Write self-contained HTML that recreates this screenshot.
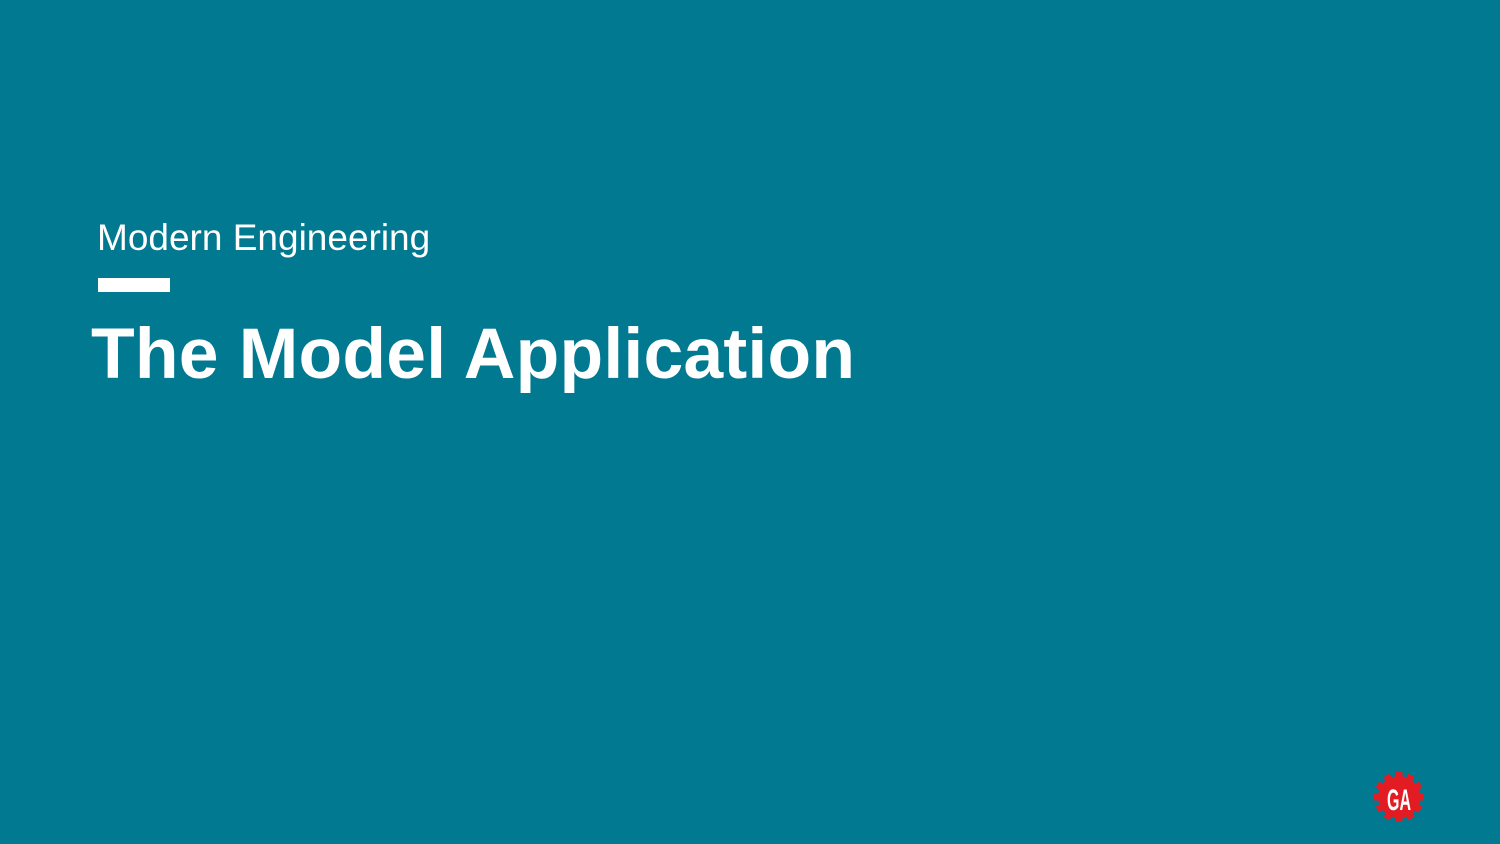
<!DOCTYPE html>
<html><head><meta charset="utf-8"><style>
html,body{margin:0;padding:0;}
body{width:1500px;height:844px;background:#017990;position:relative;overflow:hidden;font-family:"Liberation Sans",sans-serif;color:#fff;}
.sub{position:absolute;left:97px;top:218px;font-size:37px;line-height:40px;white-space:nowrap;}
.bar{position:absolute;left:98px;top:278px;width:72px;height:14px;background:#fff;}
.title{position:absolute;left:91px;top:314px;font-size:71.5px;line-height:80px;font-weight:bold;white-space:nowrap;letter-spacing:0.2px;}
svg{position:absolute;left:1370px;top:768px;}
</style></head><body>
<div class="sub">Modern Engineering</div>
<div class="bar"></div>
<div class="title">The Model Application</div>
<svg width="58" height="58" viewBox="0 0 58 58">
<g fill="#e31b23" transform="translate(29,29)">
<circle r="21"/>
<g id="t"><rect x="-3.5" y="-25" width="7" height="8"/></g>
<use href="#t" transform="rotate(30)"/><use href="#t" transform="rotate(60)"/><use href="#t" transform="rotate(90)"/>
<use href="#t" transform="rotate(120)"/><use href="#t" transform="rotate(150)"/><use href="#t" transform="rotate(180)"/>
<use href="#t" transform="rotate(210)"/><use href="#t" transform="rotate(240)"/><use href="#t" transform="rotate(270)"/>
<use href="#t" transform="rotate(300)"/><use href="#t" transform="rotate(330)"/>
</g>
<text x="29" y="42" text-anchor="middle" font-family="Liberation Sans Narrow, Liberation Sans, sans-serif" font-weight="bold" font-size="30" fill="#fff" textLength="24" lengthAdjust="spacingAndGlyphs">GA</text>
</svg>
</body></html>
